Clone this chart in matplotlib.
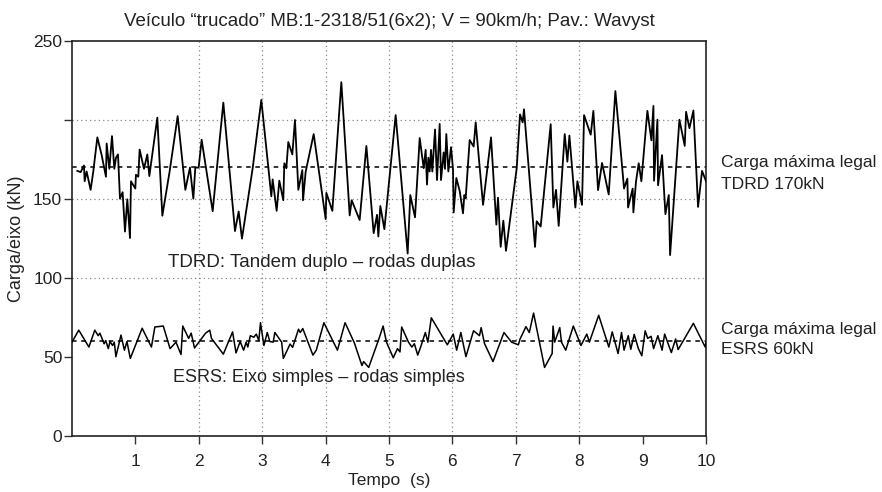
import matplotlib
matplotlib.use("Agg")
import matplotlib.pyplot as plt

# ── Police ────────────────────────────────────────────────────────
plt.rcParams["font.family"] = ["Liberation Sans", "DejaVu Sans"]
TXT = "#222222"

# ── Données : TDRD (tandem duplo) ─────────────────────────────────
t_tdrd = [0.084, 0.137, 0.168, 0.189, 0.200, 0.231, 0.294, 0.336, 0.400, 0.468,
          0.536, 0.547, 0.589, 0.631, 0.668, 0.694, 0.726, 0.757, 0.799, 0.836,
          0.873, 0.915, 0.931, 0.999, 1.009, 1.046, 1.067, 1.136, 1.188, 1.220,
          1.346, 1.425, 1.540, 1.667, 1.788, 1.861, 1.914, 1.945, 1.998, 2.045,
          2.219, 2.387, 2.571, 2.629, 2.681, 2.850, 2.986, 3.144, 3.165, 3.228,
          3.270, 3.333, 3.349, 3.381, 3.412, 3.475, 3.517, 3.570, 3.633, 3.644,
          3.686, 3.812, 4.001, 4.012, 4.106, 4.248, 4.380, 4.411, 4.537, 4.643,
          4.758, 4.811, 4.832, 4.863, 4.927, 5.105, 5.294, 5.336, 5.410, 5.484,
          5.547, 5.578, 5.599, 5.620, 5.641, 5.662, 5.683, 5.726, 5.757, 5.799,
          5.820, 5.862, 5.883, 5.904, 5.936, 5.978, 6.009, 6.020, 6.062, 6.115,
          6.167, 6.188, 6.209, 6.272, 6.335, 6.367, 6.483, 6.609, 6.693, 6.719,
          6.761, 6.803, 6.845, 7.014, 7.066, 7.108, 7.129, 7.303, 7.329, 7.392,
          7.550, 7.592, 7.634, 7.676, 7.771, 7.813, 7.845, 7.939, 7.971, 8.044,
          8.076, 8.181, 8.223, 8.297, 8.360, 8.465, 8.570, 8.707, 8.759, 8.770,
          8.843, 8.854, 8.896, 8.938, 8.980, 9.075, 9.138, 9.170, 9.180, 9.233,
          9.243, 9.306, 9.359, 9.412, 9.433, 9.580, 9.664, 9.685, 9.738, 9.801,
          9.874, 9.937, 10.0]
v_tdrd = [167.8, 167.0, 169.5, 171.2, 161.2, 167.4, 155.8, 167.4, 189.0, 177.8,
          164.1, 185.1, 169.1, 189.8, 169.1, 176.1, 178.2, 150.2, 154.3, 129.4,
          149.8, 125.3, 161.2, 156.6, 165.3, 164.1, 181.3, 169.1, 178.2, 164.5,
          201.5, 139.4, 167.4, 202.5, 155.8, 169.9, 150.2, 169.9, 169.9, 187.5,
          142.3, 211.0, 129.7, 142.1, 124.9, 169.5, 212.7, 151.7, 162.4, 142.5,
          161.6, 149.2, 172.6, 169.5, 186.1, 178.2, 200.0, 155.8, 168.3, 149.2,
          167.4, 191.1, 137.3, 153.9, 142.5, 223.9, 139.6, 149.2, 136.7, 183.6,
          128.4, 140.0, 126.3, 145.6, 130.9, 203.1, 115.5, 152.5, 138.4, 188.6,
          169.5, 181.1, 159.1, 176.1, 167.4, 181.1, 167.4, 194.0, 162.0, 197.5,
          162.0, 179.5, 169.1, 191.1, 167.4, 182.8, 169.1, 141.5, 163.3, 155.0,
          140.9, 152.5, 150.4, 187.3, 183.2, 198.5, 146.3, 189.0, 133.8, 150.8,
          119.7, 136.3, 117.2, 169.5, 203.5, 198.5, 206.8, 119.7, 135.9, 132.6,
          197.3, 144.6, 155.8, 133.0, 191.1, 173.6, 190.2, 144.6, 161.2, 146.3,
          203.1, 190.7, 205.8, 155.6, 172.8, 152.9, 218.3, 156.6, 162.9, 144.6,
          156.6, 141.5, 161.2, 172.6, 161.2, 205.8, 187.1, 208.9, 161.6, 200.2,
          158.7, 177.8, 140.4, 152.5, 114.5, 200.2, 183.6, 205.2, 194.8, 206.0,
          145.0, 167.8, 161.2]

# ── Données : ESRS (eixo simples) ─────────────────────────────────
t_esrs = [0.000, 0.107, 0.267, 0.360, 0.413, 0.440, 0.507, 0.533, 0.573, 0.600,
          0.640, 0.667, 0.693, 0.773, 0.827, 0.867, 0.920, 1.107, 1.253, 1.307,
          1.440, 1.547, 1.640, 1.720, 1.747, 1.840, 1.880, 1.933, 2.107, 2.173,
          2.200, 2.387, 2.533, 2.587, 2.653, 2.707, 2.747, 2.773, 2.813, 2.867,
          2.907, 2.947, 2.973, 3.027, 3.080, 3.120, 3.173, 3.200, 3.307, 3.333,
          3.440, 3.480, 3.573, 3.600, 3.640, 3.800, 3.853, 3.973, 4.187, 4.307,
          4.453, 4.573, 4.600, 4.680, 4.840, 4.907, 4.960, 5.067, 5.133, 5.173,
          5.200, 5.307, 5.360, 5.400, 5.453, 5.507, 5.573, 5.613, 5.667, 5.920,
          6.013, 6.067, 6.133, 6.213, 6.333, 6.427, 6.453, 6.507, 6.640, 6.813,
          6.933, 7.040, 7.067, 7.160, 7.213, 7.280, 7.453, 7.573, 7.587, 7.613,
          7.693, 7.720, 7.787, 7.907, 8.027, 8.120, 8.160, 8.307, 8.467, 8.520,
          8.613, 8.667, 8.707, 8.773, 8.813, 8.867, 8.933, 8.987, 9.040, 9.080,
          9.133, 9.173, 9.240, 9.307, 9.347, 9.453, 9.520, 9.560, 9.800, 9.987,
          10.0]
v_esrs = [59.4, 67.0, 56.3, 67.0, 63.5, 65.1, 58.4, 60.4, 55.3, 59.8,
          57.3, 59.4, 50.2, 63.9, 54.3, 59.8, 49.1, 68.2, 56.3, 69.0,
          69.6, 55.3, 59.4, 51.6, 69.6, 61.8, 65.1, 55.7, 65.1, 67.0,
          61.8, 51.8, 65.9, 52.6, 59.8, 54.3, 59.4, 56.3, 63.5, 62.5,
          64.5, 60.4, 71.7, 57.3, 65.5, 59.8, 59.4, 65.5, 59.4, 49.1,
          58.2, 56.1, 67.6, 65.5, 68.0, 51.2, 54.3, 71.7, 54.3, 71.7,
          59.0, 44.6, 47.1, 43.4, 61.4, 69.6, 59.4, 49.5, 55.3, 53.2,
          69.0, 59.4, 56.3, 58.4, 51.2, 57.3, 65.5, 59.4, 74.8, 57.7,
          64.5, 54.3, 65.5, 50.2, 66.6, 63.5, 68.6, 58.4, 47.1, 65.5,
          59.4, 57.7, 61.4, 69.2, 65.5, 77.8, 43.4, 52.2, 69.6, 59.4,
          68.6, 59.4, 54.3, 69.6, 57.3, 64.5, 59.4, 76.4, 56.3, 65.9,
          52.2, 65.5, 54.3, 63.5, 54.9, 64.3, 55.3, 50.8, 66.6, 61.8,
          63.1, 55.3, 63.5, 54.3, 64.5, 52.8, 61.4, 54.7, 71.3, 56.3,
          59.4]

LIMITES     = [170, 60]
Y_TICKS     = [0, 50, 100, 150, 200, 250]
Y_LABELS    = ["0", "50", "100", "150", "", "250"]
X_TICKS     = [1, 2, 3, 4, 5, 6, 7, 8, 9, 10]
GRILLE_X    = [2, 3, 4, 5, 6, 7, 8]
GRILLE_Y    = [100, 150, 200]

# ── Figure ────────────────────────────────────────────────────────
fig = plt.figure(figsize=(8.82, 4.92), dpi=100)
ax = fig.add_axes([0.0816, 0.1138, 0.7189, 0.8029])

for x in GRILLE_X:
    ax.axvline(x, color="#888888", lw=0.9, ls=(0, (1, 2.5)), zorder=1)
for y in GRILLE_Y:
    ax.axhline(y, color="#888888", lw=0.9, ls=(0, (1, 2.5)), zorder=1)
for y in LIMITES:
    ax.axhline(y, color="black", lw=1.1, ls=(0, (3, 3)), zorder=2)

ax.plot(t_tdrd, v_tdrd, color="black", lw=1.3, zorder=3)
ax.plot(t_esrs, v_esrs, color="black", lw=1.1, zorder=3)

ax.set_xlim(0, 10)
ax.set_ylim(0, 250)
ax.set_yticks(Y_TICKS)
ax.set_yticklabels(Y_LABELS)
ax.set_xticks(X_TICKS)
ax.tick_params(axis="both", direction="out", length=6, width=1, colors="#333333",
               labelsize=12.5, labelcolor=TXT)
ax.tick_params(axis="x", pad=7)
ax.tick_params(axis="y", pad=1)
for s in ax.spines.values():
    s.set_linewidth(1.2)
    s.set_color("#222222")

ax.set_xlabel("Tempo  (s)", fontsize=12.5, color=TXT, labelpad=3)
ax.set_ylabel("Carga/eixo (kN)", fontsize=13, color=TXT, labelpad=6)
ax.set_title("Veículo \u201ctrucado\u201d MB:1-2318/51(6x2); V = 90km/h; Pav.: Wavyst",
             fontsize=13.5, color=TXT, pad=11)

# Annotations
ax.text(1.51, 110, "TDRD: Tandem duplo \u2013 rodas duplas", fontsize=13.5, color=TXT, va="center")
ax.text(1.60, 37, "ESRS: Eixo simples \u2013 rodas simples", fontsize=13, color=TXT, va="center")
ax.text(10.24, 166, "Carga máxima legal\nTDRD 170kN", fontsize=12.6, color=TXT,
        va="center", linespacing=1.55, clip_on=False)
ax.text(10.24, 61, "Carga máxima legal\nESRS 60kN", fontsize=12.6, color=TXT,
        va="center", linespacing=1.45, clip_on=False)

fig.savefig("out.png", dpi=100)
